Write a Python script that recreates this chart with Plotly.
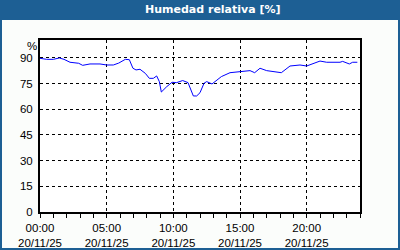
import plotly.graph_objects as go
import pandas as pd

# ---- data ----
hours = [0, 0.5, 1.0, 1.45, 1.8, 2.25, 2.9, 3.2, 3.75, 4.5, 5.0, 5.5, 5.9, 6.4, 6.7, 6.97, 7.2, 7.5,
         7.9, 8.2, 8.5, 8.75, 8.95, 9.1, 9.5, 9.9, 10.25, 10.7, 11.1, 11.5, 11.75, 12.0, 12.3, 12.5,
         12.9, 13.25, 13.6, 14.25, 15.0, 15.75, 16.1, 16.5, 17.0, 17.75, 18.1, 18.75, 19.5, 20.0,
         20.5, 21.0, 21.5, 22.5, 22.7, 23.2, 23.45, 23.8]
humidity = [89.8, 89.2, 89.2, 90.0, 89.2, 87.5, 86.9, 85.7, 86.5, 86.5, 85.9, 85.9, 87.0, 89.2, 89.0, 84.0,
            83.0, 83.4, 81.0, 78.1, 78.1, 79.5, 76.2, 70.1, 73.2, 75.8, 75.6, 76.8, 75.6, 67.8, 67.8,
            69.7, 75.2, 76.2, 74.8, 76.8, 79.1, 81.4, 82.0, 82.6, 81.4, 84.0, 82.6, 82.0, 81.4, 85.3,
            85.9, 85.3, 86.9, 88.2, 87.5, 87.5, 88.0, 86.5, 87.5, 87.5]
base = pd.Timestamp("2025-11-20 00:00")
times = [base + pd.Timedelta(hours=h) for h in hours]

x_tick_hours = [0, 5, 10, 15, 20]
x_tick_text = ["00:00<br>20/11/25", "05:00<br>20/11/25", "10:00<br>20/11/25",
               "15:00<br>20/11/25", "20:00<br>20/11/25"]
y_ticks = [0, 15, 30, 45, 60, 75, 90]
title_text = "Humedad relativa [%]"
unit_text = "%"

W, H = 400, 250
ML, MR, MT, MB = 40, 40, 40, 38
PW, PH = W - ML - MR, H - MT - MB


def px_x(p):
    return (p - ML) / PW


def px_y(p):
    return (H - MB - p) / PH


FONT = "Liberation Sans"
BLUE = "#1d5f94"

fig = go.Figure()
fig.add_trace(go.Scatter(x=times, y=humidity, mode="lines",
                         line=dict(color="#0000ff", width=1), hoverinfo="skip"))

fig.update_layout(
    width=W, height=H,
    margin=dict(l=ML, r=MR, t=MT, b=MB, autoexpand=False),
    paper_bgcolor="#fbfdfb", plot_bgcolor="#ffffff",
    showlegend=False,
    font=dict(family=FONT, size=11.5, color="#000000"),
)
fig.update_xaxes(
    automargin=False,
    range=[base, base + pd.Timedelta(hours=24)],
    tickvals=[base + pd.Timedelta(hours=h) for h in x_tick_hours],
    ticktext=x_tick_text,
    showgrid=True, gridcolor="#000000", gridwidth=1, griddash="3px,3px",
    showline=True, linecolor="#000000", linewidth=2, mirror=True,
    ticks="outside", ticklen=4, tickcolor="#000000", tickwidth=1,
    minor=dict(dtick=3600000, ticks="outside", ticklen=4, tickcolor="#000000", showgrid=False),
    zeroline=False,
)
fig.update_yaxes(
    automargin=False,
    range=[0, 100.5], tickvals=y_ticks,
    showgrid=True, gridcolor="#000000", gridwidth=1, griddash="3px,3px",
    showline=True, linecolor="#000000", linewidth=2, mirror=True,
    ticks="", ticklabelstandoff=3,
    zeroline=False,
)

# title bar and frame
fig.add_shape(type="rect", xref="paper", yref="paper",
              x0=px_x(0), x1=px_x(W), y0=px_y(20), y1=px_y(0),
              fillcolor=BLUE, line=dict(width=0), layer="above")
fig.add_shape(type="rect", xref="paper", yref="paper",
              x0=px_x(1), x1=px_x(W - 1), y0=px_y(H - 1), y1=px_y(1),
              fillcolor="rgba(0,0,0,0)", line=dict(color=BLUE, width=2), layer="above")
fig.add_annotation(x=px_x(213), y=px_y(10), xref="paper", yref="paper",
                   text="<b>" + title_text + "</b>", showarrow=False,
                   font=dict(family="DejaVu Sans", size=11, color="#ffffff"),
                   xanchor="center", yanchor="middle")
fig.add_annotation(x=px_x(32), y=px_y(46), xref="paper", yref="paper",
                   text=unit_text, showarrow=False,
                   font=dict(family=FONT, size=11.5, color="#000000"),
                   xanchor="center", yanchor="middle")

fig.write_html("out.html")
